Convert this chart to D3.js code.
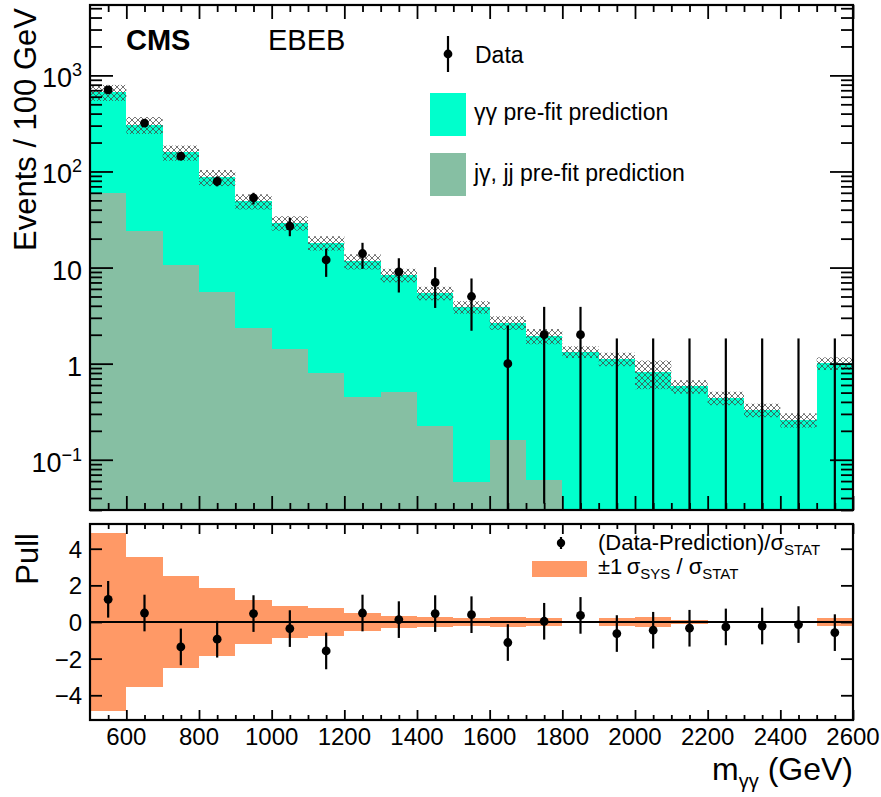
<!DOCTYPE html>
<html>
<head>
<meta charset="utf-8">
<script src="https://cdn.jsdelivr.net/npm/d3@7"></script>
<style>
  body { margin: 0; background: #fff; }
  text { font-family: "Liberation Sans", Arial, Helvetica, sans-serif; fill: #000; }
</style>
</head>
<body>
<svg id="chart" width="881" height="797"></svg>
<script>
// Bins of m_gammagamma (GeV): lower edges, each 100 GeV wide
const binLow = [500, 600, 700, 800, 900, 1000, 1100, 1200, 1300, 1400, 1500,
                1600, 1700, 1800, 1900, 2000, 2100, 2200, 2300, 2400, 2500];
const binWidth = 100;

// Pre-fit predictions (events / 100 GeV)
const ggPred  = [609, 283, 147, 81.4, 46.7, 27.8, 17.3, 11.2, 7.85, 5.21, 3.83,
                 2.52, 1.88, 1.33, 1.12, 0.81, 0.58, 0.44, 0.33, 0.26, 1.01];
const jetPred = [60, 24, 10.6, 5.6, 2.33, 1.41, 0.80, 0.455, 0.513, 0.226, 0.059,
                 0.16, 0.062, 0, 0, 0, 0, 0, 0, 0, 0];
// Relative systematic uncertainty on the total prediction
const sysRel  = [0.19, 0.20, 0.18, 0.19, 0.18, 0.17, 0.17, 0.18, 0.16, 0.16, 0.15,
                 0.16, 0.18, 0.14, 0.16, 0.33, 0.16, 0.16, 0.16, 0.17, 0.15];

// Observed events and their Poisson intervals
const dataCounts = [705, 319, 144, 79, 53, 27, 12, 14, 9, 7, 5, 1, 2, 2, 0, 0, 0, 0, 0, 0, 0];
const dataHigh   = [732, 337, 157, 89, 60, 33, 15.7, 18.1, 12.5, 10.1, 7.7, 2.5, 3.9, 3.9,
                    1.83, 1.83, 1.83, 1.83, 1.83, 1.83, 1.83];
const dataLow    = [679, 301, 132, 70, 45.4, 21.2, 8.0, 9.7, 5.5, 3.8, 2.2, 0, 0.035, 0,
                    0, 0, 0, 0, 0, 0, 0];

// Pull panel
const pullVals = [1.24, 0.49, -1.36, -0.94, 0.46, -0.36, -1.58, 0.49, 0.13, 0.46, 0.40,
                  -1.12, 0.04, 0.36, -0.63, -0.45, -0.34, -0.27, -0.22, -0.14, -0.58];
const pullErr  = [1, 1, 1, 1, 1, 1, 1, 1, 1, 1, 1, 1, 1, 1, 1, 1, 1, 1, 1, 1, 1];
const sysOverStat = [4.85, 3.55, 2.53, 1.88, 1.20, 0.88, 0.75, 0.48, 0.34, 0.25, 0.20,
                     0.27, 0.20, 0.05, 0.20, 0.30, 0.10, 0.05, 0.05, 0.05, 0.20];

// Axis ticks and labels
const xMajor = [600, 800, 1000, 1200, 1400, 1600, 1800, 2000, 2200, 2400, 2600];
const xMinor = [550, 650, 700, 750, 850, 900, 950, 1050, 1100, 1150, 1250, 1300, 1350,
                1450, 1500, 1550, 1650, 1700, 1750, 1850, 1900, 1950, 2050, 2100, 2150,
                2250, 2300, 2350, 2450, 2500, 2550];
const yMajor = [0.1, 1, 10, 100, 1000];
const yMinor = [0.03, 0.04, 0.05, 0.06, 0.07, 0.08, 0.09,
                0.2, 0.3, 0.4, 0.5, 0.6, 0.7, 0.8, 0.9,
                2, 3, 4, 5, 6, 7, 8, 9,
                20, 30, 40, 50, 60, 70, 80, 90,
                200, 300, 400, 500, 600, 700, 800, 900,
                2000, 3000, 4000, 5000];
const yLabels = [
  { v: 1000, base: "10", sup: "3" },
  { v: 100,  base: "10", sup: "2" },
  { v: 10,   base: "10", sup: "" },
  { v: 1,    base: "1",  sup: "" },
  { v: 0.1,  base: "10", sup: "\u22121" }
];
const pullTicks = [-4, -2, 0, 2, 4];
const pullLabels = ["\u22124", "\u22122", "0", "2", "4"];

// Colours
const colGG = "#00ffcc", colJet = "#86bfa3", colSys = "#ff9966";

// Layout
const L = 90, R = 853;
const T1 = 5, B1 = 510;     // main panel
const T2 = 524, B2 = 720;   // pull panel

const svg = d3.select("#chart");
svg.append("rect").attr("width", 881).attr("height", 797).attr("fill", "#fff");

const x  = d3.scaleLinear().domain([500, 2600]).range([L, R]);
const y  = d3.scaleLog().domain([0.03, 5400]).range([B1, T1]);
const yp = d3.scaleLinear().domain([-5.35, 5.35]).range([B2, T2]);

const defs = svg.append("defs");
defs.append("clipPath").attr("id", "clipMain")
  .append("rect").attr("x", L).attr("y", T1).attr("width", R - L).attr("height", B1 - T1);
defs.append("clipPath").attr("id", "clipPull")
  .append("rect").attr("x", L).attr("y", T2).attr("width", R - L).attr("height", B2 - T2);
const pat = defs.append("pattern").attr("id", "hatch")
  .attr("width", 6).attr("height", 6).attr("patternUnits", "userSpaceOnUse");
pat.append("path").attr("d", "M0,0L6,6M6,0L0,6M-1,5L1,7M5,-1L7,1")
  .attr("stroke", "#444").attr("stroke-opacity", 0.75)
  .attr("stroke-width", 1).attr("fill", "none");

const bins = binLow.map((lo, i) => ({
  lo, hi: lo + binWidth, c: lo + binWidth / 2,
  gg: ggPred[i], jet: jetPred[i], tot: ggPred[i] + jetPred[i],
  sys: sysRel[i], n: dataCounts[i], hiE: dataHigh[i], loE: dataLow[i],
  pull: pullVals[i], perr: pullErr[i], band: sysOverStat[i]
}));

const yc = v => (v > 0 ? Math.min(B1, y(v)) : B1);

// ---- main panel: stacked predictions ----
const gMain = svg.append("g").attr("clip-path", "url(#clipMain)");
gMain.selectAll("rect.jet").data(bins.filter(d => d.jet > 0)).join("rect")
  .attr("x", d => x(d.lo)).attr("width", d => x(d.hi) - x(d.lo))
  .attr("y", d => yc(d.jet)).attr("height", d => B1 - yc(d.jet))
  .attr("fill", colJet).attr("shape-rendering", "crispEdges");
gMain.selectAll("rect.gg").data(bins).join("rect")
  .attr("x", d => x(d.lo)).attr("width", d => x(d.hi) - x(d.lo))
  .attr("y", d => yc(d.tot)).attr("height", d => yc(d.jet) - yc(d.tot))
  .attr("fill", colGG).attr("shape-rendering", "crispEdges");
// systematic band
gMain.selectAll("rect.sys").data(bins).join("rect")
  .attr("x", d => x(d.lo)).attr("width", d => x(d.hi) - x(d.lo))
  .attr("y", d => yc(d.tot * (1 + d.sys)))
  .attr("height", d => yc(d.tot * (1 - d.sys)) - yc(d.tot * (1 + d.sys)))
  .attr("fill", "url(#hatch)");

// data
gMain.selectAll("line.err").data(bins).join("line")
  .attr("x1", d => x(d.c)).attr("x2", d => x(d.c))
  .attr("y1", d => yc(d.hiE)).attr("y2", d => (d.loE > 0 ? yc(d.loE) : B1 + 2))
  .attr("stroke", "#000").attr("stroke-width", 2.2);
gMain.selectAll("circle.pt").data(bins.filter(d => d.n > 0)).join("circle")
  .attr("cx", d => x(d.c)).attr("cy", d => y(d.n)).attr("r", 4.4).attr("fill", "#000");

// ---- pull panel ----
const gPull = svg.append("g").attr("clip-path", "url(#clipPull)");
gPull.selectAll("rect.band").data(bins).join("rect")
  .attr("x", d => x(d.lo)).attr("width", d => x(d.hi) - x(d.lo))
  .attr("y", d => yp(d.band)).attr("height", d => yp(-d.band) - yp(d.band))
  .attr("fill", colSys).attr("shape-rendering", "crispEdges");
gPull.append("line").attr("x1", L).attr("x2", R).attr("y1", yp(0)).attr("y2", yp(0))
  .attr("stroke", "#000").attr("stroke-width", 2);
gPull.selectAll("line.perr").data(bins).join("line")
  .attr("x1", d => x(d.c)).attr("x2", d => x(d.c))
  .attr("y1", d => yp(d.pull + d.perr)).attr("y2", d => yp(d.pull - d.perr))
  .attr("stroke", "#000").attr("stroke-width", 2.2);
gPull.selectAll("circle.pp").data(bins).join("circle")
  .attr("cx", d => x(d.c)).attr("cy", d => yp(d.pull)).attr("r", 4.4).attr("fill", "#000");

// ---- axes ----
function tickAxis(axisFn, scale, values, size, tx, ty) {
  const g = svg.append("g").attr("transform", `translate(${tx},${ty})`)
    .call(axisFn(scale).tickValues(values).tickSize(size).tickFormat(""));
  g.select(".domain").remove();
  g.selectAll("line").attr("stroke", "#000").attr("stroke-width", 1.8);
  return g;
}
// main panel ticks (pointing inward)
tickAxis(d3.axisBottom, x, xMajor, -14, 0, B1);
tickAxis(d3.axisBottom, x, xMinor, -7, 0, B1);
tickAxis(d3.axisTop, x, xMajor, -14, 0, T1);
tickAxis(d3.axisTop, x, xMinor, -7, 0, T1);
tickAxis(d3.axisLeft, y, yMajor, -23, L, 0);
tickAxis(d3.axisLeft, y, yMinor, -12, L, 0);
tickAxis(d3.axisRight, y, yMajor, -23, R, 0);
tickAxis(d3.axisRight, y, yMinor, -12, R, 0);
// pull panel ticks
tickAxis(d3.axisBottom, x, xMajor, -10, 0, B2);
tickAxis(d3.axisBottom, x, xMinor, -5, 0, B2);
tickAxis(d3.axisTop, x, xMajor, -10, 0, T2);
tickAxis(d3.axisTop, x, xMinor, -5, 0, T2);
tickAxis(d3.axisLeft, yp, pullTicks, -12, L, 0);
tickAxis(d3.axisRight, yp, pullTicks, -12, R, 0);

// frames
[[T1, B1], [T2, B2]].forEach(([t, b]) => {
  svg.append("rect").attr("x", L).attr("y", t).attr("width", R - L).attr("height", b - t)
    .attr("fill", "none").attr("stroke", "#000").attr("stroke-width", 2.2);
});

// y tick labels (main)
yLabels.forEach(l => {
  const t = svg.append("text").attr("x", 82).attr("y", y(l.v) + 12)
    .attr("text-anchor", "end").attr("font-size", 27);
  t.append("tspan").text(l.base);
  if (l.sup) t.append("tspan").attr("font-size", 18).attr("dy", -11).text(l.sup);
});
// pull tick labels
pullTicks.forEach((v, i) => {
  svg.append("text").attr("x", 82).attr("y", yp(v) + 9)
    .attr("text-anchor", "end").attr("font-size", 24).text(pullLabels[i]);
});
// x tick labels
xMajor.forEach(v => {
  svg.append("text").attr("x", x(v)).attr("y", 745)
    .attr("text-anchor", "middle").attr("font-size", 24).text(v);
});

// axis titles
svg.append("text").attr("transform", "translate(36,8) rotate(-90)")
  .attr("text-anchor", "end").attr("font-size", 31).text("Events / 100 GeV");
svg.append("text").attr("transform", "translate(38,533) rotate(-90)")
  .attr("text-anchor", "end").attr("font-size", 31).text("Pull");
const xt = svg.append("text").attr("x", 853).attr("y", 780)
  .attr("text-anchor", "end").attr("font-size", 32);
xt.append("tspan").text("m");
xt.append("tspan").attr("font-size", 20).attr("dy", 8).text("\u03b3\u03b3");
xt.append("tspan").attr("dy", -8).text(" (GeV)");

// labels
svg.append("text").attr("x", 126).attr("y", 50).attr("font-size", 29)
  .attr("font-weight", "bold").text("CMS");
svg.append("text").attr("x", 268).attr("y", 50).attr("font-size", 29).text("EBEB");

// main legend
svg.append("line").attr("x1", 448).attr("x2", 448).attr("y1", 36).attr("y2", 72)
  .attr("stroke", "#000").attr("stroke-width", 2.2);
svg.append("circle").attr("cx", 448).attr("cy", 54).attr("r", 4.4).attr("fill", "#000");
svg.append("text").attr("x", 475).attr("y", 63).attr("font-size", 23).text("Data");
svg.append("rect").attr("x", 430).attr("y", 93).attr("width", 36).attr("height", 43).attr("fill", colGG);
svg.append("text").attr("x", 474).attr("y", 120).attr("font-size", 23)
  .text("\u03b3\u03b3 pre-fit prediction");
svg.append("rect").attr("x", 430).attr("y", 153).attr("width", 36).attr("height", 43).attr("fill", colJet);
svg.append("text").attr("x", 474).attr("y", 181).attr("font-size", 23)
  .text("j\u03b3, jj pre-fit prediction");

// pull legend
svg.append("line").attr("x1", 561).attr("x2", 561).attr("y1", 537).attr("y2", 549)
  .attr("stroke", "#000").attr("stroke-width", 2.2);
svg.append("circle").attr("cx", 561).attr("cy", 543).attr("r", 4.2).attr("fill", "#000");
const l1 = svg.append("text").attr("x", 598).attr("y", 550).attr("font-size", 22);
l1.append("tspan").text("(Data-Prediction)/\u03c3");
l1.append("tspan").attr("font-size", 15).attr("dy", 5).text("STAT");
svg.append("rect").attr("x", 532).attr("y", 561).attr("width", 55).attr("height", 16).attr("fill", colSys);
const l2 = svg.append("text").attr("x", 598).attr("y", 574).attr("font-size", 22);
l2.append("tspan").text("\u00b11\u2009\u03c3");
l2.append("tspan").attr("font-size", 15).attr("dy", 5).text("SYS");
l2.append("tspan").attr("dy", -5).text(" / \u03c3");
l2.append("tspan").attr("font-size", 15).attr("dy", 5).text("STAT");
</script>
</body>
</html>
